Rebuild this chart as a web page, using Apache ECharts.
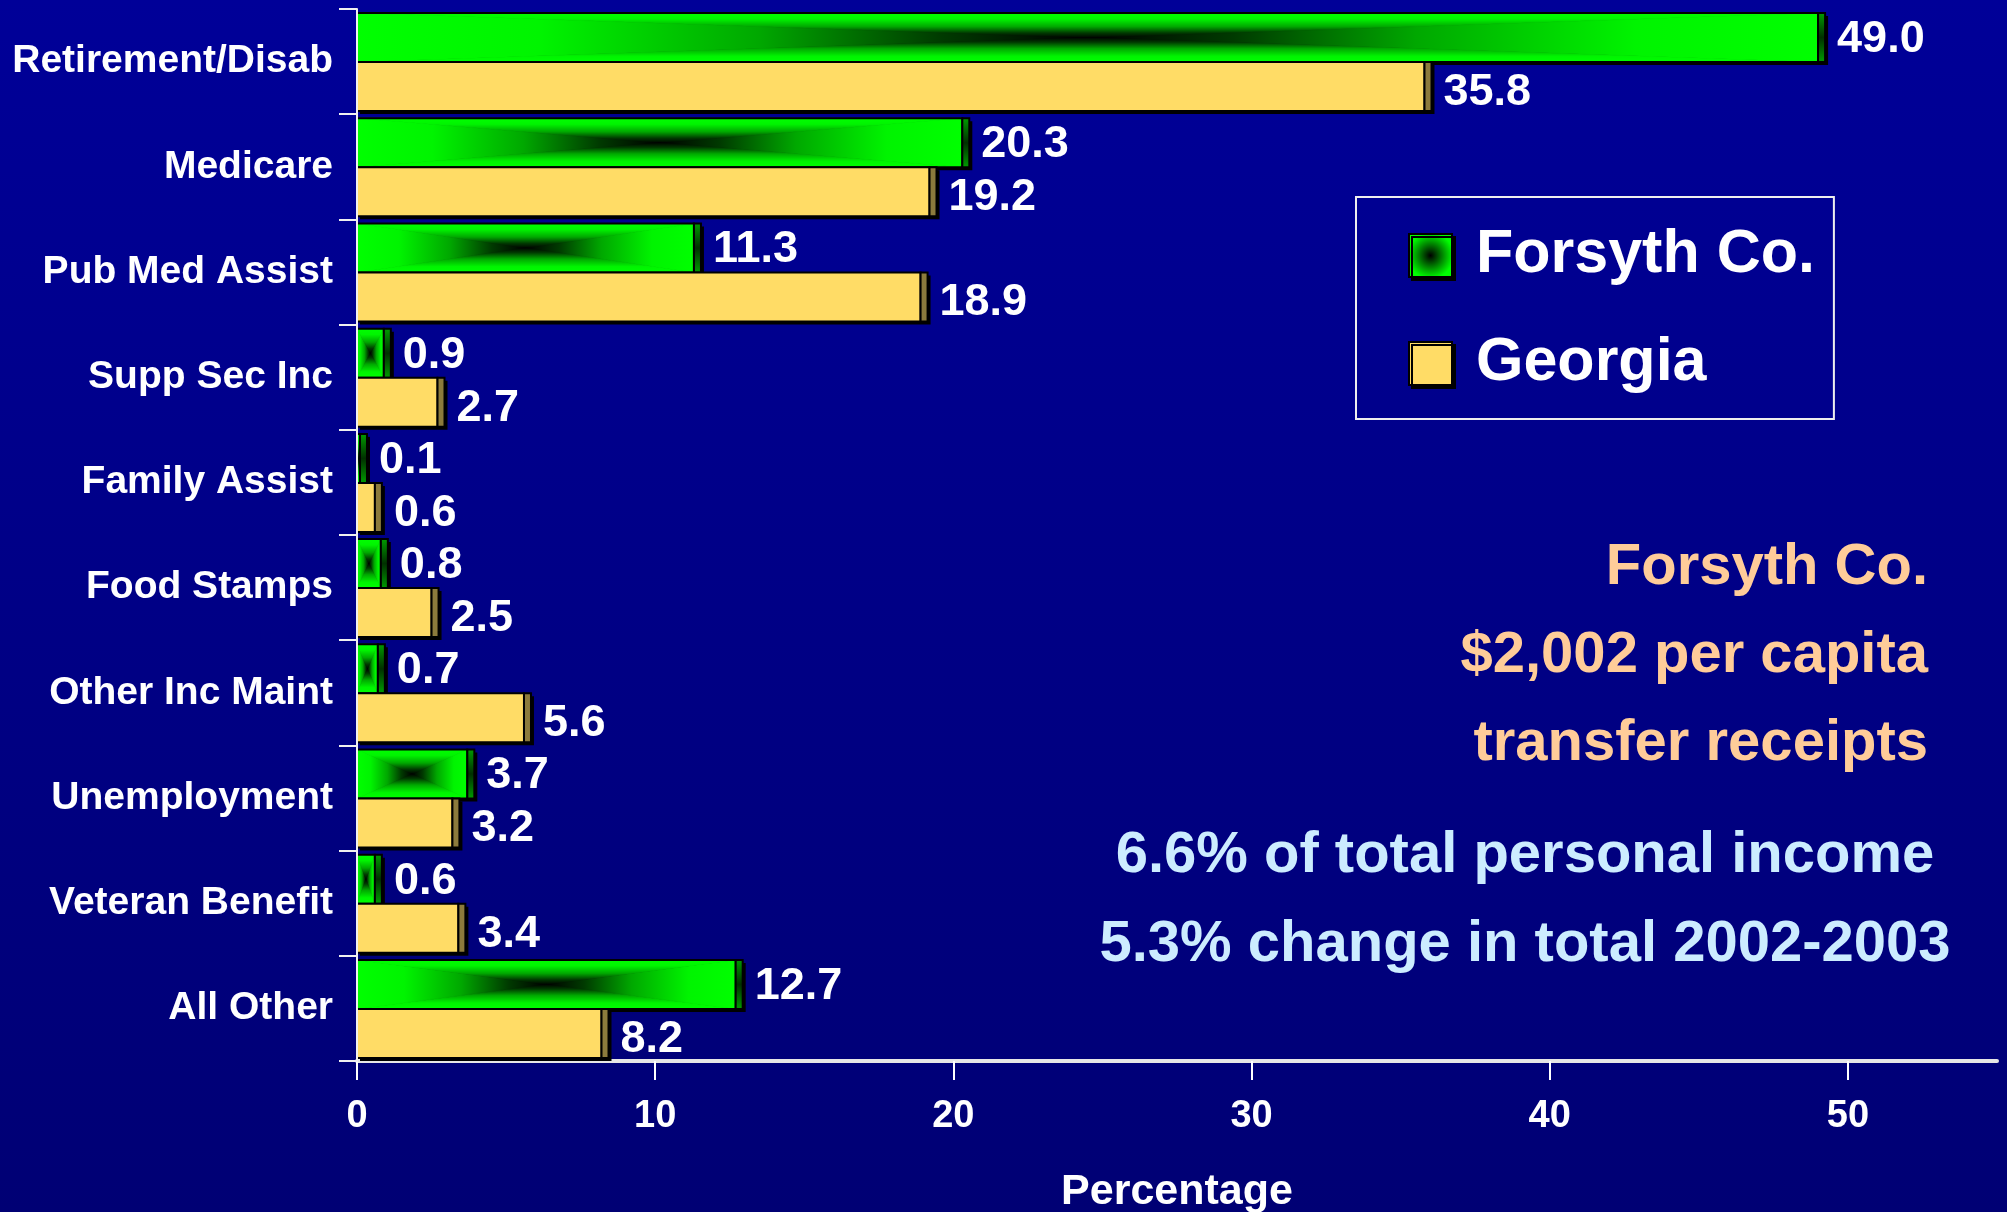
<!DOCTYPE html>
<html><head><meta charset="utf-8">
<script src="https://cdn.jsdelivr.net/npm/echarts@6/dist/echarts.min.js"></script>
<style>html,body{margin:0;padding:0;background:#000088}#c{width:2007px;height:1212px}</style>
</head><body><div id="c"></div>
<script>
const categories = ['Retirement/Disab','Medicare','Pub Med Assist','Supp Sec Inc','Family Assist','Food Stamps','Other Inc Maint','Unemployment','Veteran Benefit','All Other'];
const forsyth = [49.0, 20.3, 11.3, 0.9, 0.1, 0.8, 0.7, 3.7, 0.6, 12.7];
const georgia = [35.8, 19.2, 18.9, 2.7, 0.6, 2.5, 5.6, 3.2, 3.4, 8.2];
const xTicks = [0, 10, 20, 30, 40, 50];
const seriesNames = ['Forsyth Co.', 'Georgia'];
const axisName = 'Percentage';
const notesPeach = ['Forsyth Co.', '$2,002 per capita', 'transfer receipts'];
const notesBlue = ['6.6% of total personal income', '5.3% change in total 2002-2003'];

const FONT = "'Liberation Sans', Arial, sans-serif";
const GREEN_STOPS = [
  {offset: 0, color: '#00ff00'},
  {offset: 0.25, color: '#00f400'},
  {offset: 0.55, color: '#00a800'},
  {offset: 0.8, color: '#003a00'},
  {offset: 1, color: '#000000'}
];
function grad(x, y, x2, y2) { return {type: 'linear', x: x, y: y, x2: x2, y2: y2, colorStops: GREEN_STOPS}; }
const GREEN_SIDE = {type: 'linear', x: 0, y: 0, x2: 0, y2: 1, colorStops: [
  {offset: 0, color: '#00a000'}, {offset: 0.5, color: '#003000'}, {offset: 1, color: '#00a000'}]};
const YELLOW = '#FFDC66';
const YELLOW_SIDE = '#8C7B3C';

function makeRender(kind) {
  return function (params, api) {
    const v = api.value(0), cat = api.value(1);
    const base = api.coord([0, cat]);
    const end = api.coord([v, cat]);
    const band = api.size([0, 1])[1];
    const yc = base[1];
    const h = band * 0.466;
    const top = kind === 'g' ? yc - h + 0.5 : yc + 0.5;
    const bot = top + h;
    const xL = base[0], xR = end[0];
    const side = 7;
    const children = [];
    children.push({type: 'rect', shape: {x: xL + 3, y: top + 3, width: xR - xL + side, height: h}, style: {fill: '#000'}});
    if (kind === 'g') {
      const cx = (xL + xR) / 2, cy = (top + bot) / 2;
      const polys = [
        [[[xL, top], [cx, cy], [xL, bot]], grad(0, 0, 1, 0)],
        [[[xR, top], [cx, cy], [xR, bot]], grad(1, 0, 0, 0)],
        [[[xL, top], [xR, top], [cx, cy]], grad(0, 0, 0, 1)],
        [[[xL, bot], [xR, bot], [cx, cy]], grad(0, 1, 0, 0)]
      ];
      polys.forEach(function (p) {
        children.push({type: 'polygon', shape: {points: p[0]}, style: {fill: p[1], stroke: p[1], lineWidth: 0.8}});
      });
    } else {
      children.push({type: 'rect', shape: {x: xL, y: top, width: xR - xL, height: h}, style: {fill: YELLOW}});
    }
    children.push({type: 'rect', shape: {x: xL, y: top, width: xR - xL, height: h}, style: {fill: null, stroke: '#000', lineWidth: 2}});
    children.push({type: 'rect', shape: {x: xR, y: top, width: side, height: h},
      style: {fill: kind === 'g' ? GREEN_SIDE : YELLOW_SIDE, stroke: '#000', lineWidth: 2}});
    children.push({type: 'text', style: {
      text: v.toFixed(1), x: xR + side + 12, y: (top + bot) / 2 + (kind === 'g' ? 2 : 6),
      verticalAlign: 'middle', align: 'left', fill: '#ffffff', font: 'bold 45px ' + FONT}});
    return {type: 'group', children: children};
  };
}

const chart = echarts.init(document.getElementById('c'), null, {renderer: 'canvas'});
const graphics = [];
notesPeach.forEach(function (t, i) {
  graphics.push({type: 'text', z: 20, style: {text: t, x: 1928, y: 568 + i * 88, align: 'right', verticalAlign: 'middle',
    fill: '#FFCC99', font: 'bold 58px ' + FONT}});
});
notesBlue.forEach(function (t, i) {
  graphics.push({type: 'text', z: 20, style: {text: t, x: 1525, y: 856 + i * 89, align: 'center', verticalAlign: 'middle',
    fill: '#CCECFF', font: 'bold 58px ' + FONT}});
});

chart.setOption({
  animation: false,
  backgroundColor: {type: 'linear', x: 0, y: 0, x2: 0, y2: 1, colorStops: [
    {offset: 0, color: '#000098'}, {offset: 1, color: '#000074'}]},
  grid: {left: 357, right: 10, top: 9, bottom: 151, containLabel: false, outerBoundsMode: 'none'},
  xAxis: {
    type: 'value', min: 0, max: 55, interval: 10,
    name: axisName, nameLocation: 'middle', nameGap: 110,
    nameTextStyle: {color: '#fff', fontSize: 43, fontWeight: 'bold', fontFamily: FONT},
    axisLine: {show: true, lineStyle: {color: '#e6e6e6', width: 4}},
    axisTick: {show: true, length: 19, lineStyle: {color: '#fff', width: 2}, customValues: xTicks},
    axisLabel: {color: '#fff', fontSize: 38, fontWeight: 'bold', fontFamily: FONT, margin: 37, customValues: xTicks},
    splitLine: {show: false}
  },
  yAxis: {
    type: 'category', inverse: true, data: categories, z: 10,
    axisLine: {show: true, lineStyle: {color: '#f0f0f0', width: 2}},
    axisTick: {show: true, length: 18, lineStyle: {color: '#f0f0f0', width: 2}},
    axisLabel: {color: '#fff', fontSize: 39, fontWeight: 'bold', fontFamily: FONT, margin: 24, padding: [7, 0, 0, 0]},
    splitLine: {show: false}
  },
  legend: {
    orient: 'vertical', left: 1356, top: 197,
    padding: [28, 19, 25, 52], itemGap: 47, itemWidth: 43, itemHeight: 43, icon: 'rect',
    borderColor: '#eeeeee', borderWidth: 2, selectedMode: false,
    textStyle: {color: '#fff', fontSize: 61, fontWeight: 'bold', fontFamily: "'Liberation Sans Narrow', 'Arial Narrow', " + FONT, padding: [0, 0, 0, 19]},
    data: [
      {name: seriesNames[0], itemStyle: {color: {type: 'radial', x: 0.5, y: 0.5, r: 0.6, colorStops: [
        {offset: 0, color: '#000'}, {offset: 0.85, color: '#00ff00'}, {offset: 1, color: '#00ff00'}]},
        borderColor: '#000', borderWidth: 2, shadowColor: '#000', shadowOffsetX: 3, shadowOffsetY: 3, shadowBlur: 0}},
      {name: seriesNames[1], itemStyle: {color: YELLOW, borderColor: '#000', borderWidth: 2,
        shadowColor: '#000', shadowOffsetX: 3, shadowOffsetY: 3, shadowBlur: 0}}
    ]
  },
  graphic: graphics,
  series: [
    {type: 'custom', name: seriesNames[0], renderItem: makeRender('g'), encode: {x: 0, y: 1},
      itemStyle: {color: '#00ff00'}, z: 3, data: forsyth.map(function (v, i) { return [v, i]; })},
    {type: 'custom', name: seriesNames[1], renderItem: makeRender('y'), encode: {x: 0, y: 1},
      itemStyle: {color: YELLOW}, z: 3, data: georgia.map(function (v, i) { return [v, i]; })}
  ]
});
</script>
</body></html>
